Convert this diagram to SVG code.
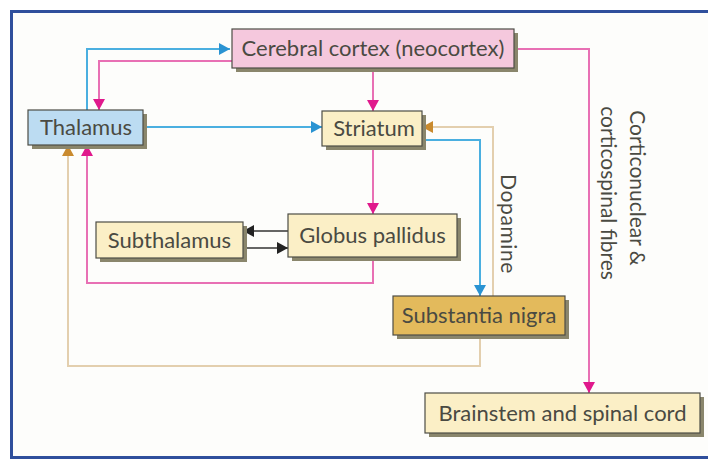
<svg xmlns="http://www.w3.org/2000/svg" width="708" height="461" viewBox="0 0 708 461">
<style>
.shadow{fill:#8a866c;}
.box{stroke:#4d4d45;stroke-width:1.2;}
.cream{fill:#fbefc6;}
.lbl{font-family:Lato,"Open Sans",sans-serif;font-size:22px;fill:#4a4a42;text-anchor:middle;}
.side{font-family:Lato,"Open Sans",sans-serif;font-size:21px;letter-spacing:0.6px;fill:#4a4a42;text-anchor:middle;}
.fib{letter-spacing:0px;}
.c{fill:none;stroke-width:2;}
.pink{stroke:#e870b4;}
.blue{stroke:#4aafe0;}
.tan{stroke:#e3cfae;}
.blk{stroke:#333;stroke-width:1.5;}
</style>
<defs>
<marker id="ap" markerUnits="userSpaceOnUse" markerWidth="12" markerHeight="12" refX="11" refY="6" orient="auto"><path d="M0,0 L11,6 L0,12 z" fill="#e0198c"/></marker>
<marker id="ab" markerUnits="userSpaceOnUse" markerWidth="12" markerHeight="12" refX="11" refY="6" orient="auto"><path d="M0,0 L11,6 L0,12 z" fill="#2a93d2"/></marker>
<marker id="at" markerUnits="userSpaceOnUse" markerWidth="12" markerHeight="12" refX="11" refY="6" orient="auto"><path d="M0,0 L11,6 L0,12 z" fill="#c98a2e"/></marker>
<marker id="ak" markerUnits="userSpaceOnUse" markerWidth="12" markerHeight="12" refX="11" refY="6" orient="auto"><path d="M0,0 L11,6 L0,12 z" fill="#222"/></marker>
</defs>
<rect x="0" y="0" width="708" height="461" fill="#ffffff"/>
<rect x="11.5" y="11.5" width="720" height="446" fill="#fdfdfb" stroke="#2f4f9c" stroke-width="3"/>

<g id="connectors">
<path class="c blue" d="M87,110 V49 H230" marker-end="url(#ab)"/>
<path class="c pink" d="M232,61 H99 V110" marker-end="url(#ap)"/>
<path class="c blue" d="M143,127 H322" marker-end="url(#ab)"/>
<path class="c pink" d="M373,68 V111" marker-end="url(#ap)"/>
<path class="c pink" d="M514,49 H589 V393" marker-end="url(#ap)"/>
<path class="c tan" d="M493,296 V127 H422" marker-end="url(#at)"/>
<path class="c blue" d="M422,140 H480 V296" marker-end="url(#ab)"/>
<path class="c pink" d="M373,146 V214" marker-end="url(#ap)"/>
<path class="c pink" d="M373,257 V283 H87 V145" marker-end="url(#ap)"/>
<path class="c tan" d="M480,335 V366 H68 V145" marker-end="url(#at)"/>
<path class="c blk" d="M288,231 H243" marker-end="url(#ak)"/>
<path class="c blk" d="M243,248 H288" marker-end="url(#ak)"/>
</g>

<g id="cortex">
<rect class="shadow" x="236" y="33" width="282" height="39"/>
<rect class="box" x="232" y="29" width="282" height="39" fill="#f5c8dd"/>
<text class="lbl" x="373" y="56">Cerebral cortex (neocortex)</text>
</g>
<g id="thalamus">
<rect class="shadow" x="32" y="114" width="115" height="35"/>
<rect class="box" x="28" y="110" width="115" height="35" fill="#bcdcf2"/>
<text class="lbl" x="86" y="135">Thalamus</text>
</g>
<g id="striatum">
<rect class="shadow" x="326" y="115" width="100" height="35"/>
<rect class="box cream" x="322" y="111" width="100" height="35"/>
<text class="lbl" x="374" y="136">Striatum</text>
</g>
<g id="subthalamus">
<rect class="shadow" x="100" y="226" width="147" height="36"/>
<rect class="box cream" x="96" y="222" width="147" height="36"/>
<text class="lbl" x="169.5" y="248">Subthalamus</text>
</g>
<g id="globus">
<rect class="shadow" x="292" y="218" width="169" height="43"/>
<rect class="box cream" x="288" y="214" width="169" height="43"/>
<text class="lbl" x="372.5" y="243">Globus pallidus</text>
</g>
<g id="nigra">
<rect class="shadow" x="397" y="300" width="172" height="39"/>
<rect class="box" x="393" y="296" width="172" height="39" fill="#e3ba5c"/>
<text class="lbl" x="479" y="323">Substantia nigra</text>
</g>
<g id="brainstem">
<rect class="shadow" x="429" y="397" width="275" height="40"/>
<rect class="box cream" x="425" y="393" width="275" height="40"/>
<text class="lbl" x="562.5" y="421">Brainstem and spinal cord</text>
</g>

<text class="side" transform="translate(508,224) rotate(90)" y="7">Dopamine</text>
<text class="side fib" transform="translate(637,188) rotate(90)" y="7">Corticonuclear &amp;</text>
<text class="side fib" transform="translate(608,193) rotate(90)" y="7">corticospinal fibres</text>
</svg>
